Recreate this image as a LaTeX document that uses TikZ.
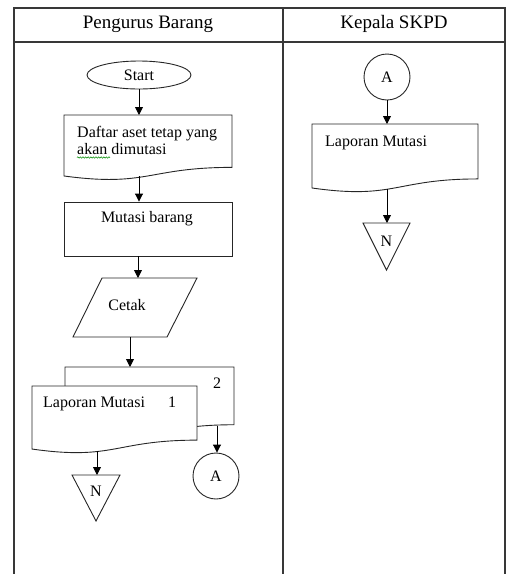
\documentclass[tikz,border=0pt]{standalone}
\usepackage{fontspec}
\setmainfont{Liberation Serif}
\usetikzlibrary{arrows.meta,shapes.geometric,decorations.pathmorphing}

% document symbol: left x, right x, top y, height
\newcommand\docshape[4]{%
  \draw[shapeline] (#1,#3) -- (#2,#3) -- (#2,{#3+0.802*#4})
    .. controls ({(#1+#2)/2},{#3+0.802*#4}) and ({(#1+#2)/2},{#3+1.107*#4}) ..
    (#1,{#3+0.934*#4}) -- cycle;}

\begin{document}
\begin{tikzpicture}[x=1pt,y=-1pt,
  lane/.style={draw=black!78, line width=1.3pt},
  shapeline/.style={draw=black!85, line width=0.9pt, fill=white},
  flow/.style={draw=black, line width=0.9pt, -{Triangle[length=8pt,width=8pt]}},
  lbl/.style={font=\fontsize{16}{17}\selectfont, inner sep=0pt},
  head/.style={font=\fontsize{19}{22}\selectfont, inner sep=0pt},
  conn/.style={circle, shapeline, minimum size=46pt, inner sep=0pt, font=\fontsize{16}{17}\selectfont},
  term/.style={ellipse, shapeline, minimum width=104pt, minimum height=28pt, inner sep=0pt, font=\fontsize{16}{17}\selectfont}
]
\useasboundingbox (0,0) rectangle (509,574);

% swimlane table
\draw[lane] (14,574) -- (14,8) -- (505,8) -- (505,574);
\draw[lane] (283,8) -- (283,574);
\draw[lane] (14,42) -- (505,42);
\node[head, anchor=base] (hPB) at (148,28) {Pengurus Barang};
\node[head, anchor=base] (hKS) at (394,28) {Kepala SKPD};

% --- Pengurus Barang ---
\node[term] (start) at (139,75) {Start};

\docshape{64}{232}{115}{65.3}
\coordinate (d1top) at (139,115);
\coordinate (d1bot) at (139,176);
\node[lbl, anchor=base west] (d1a) at (77,137) {Daftar aset tetap yang};
\node[lbl, anchor=base west] (d1b) at (77,154) {akan dimutasi};
\draw[green!55!black, line width=0.5pt, decorate,
      decoration={snake, amplitude=0.7pt, segment length=2.6pt}] (77,157.5) -- (110,157.5);

\node[rectangle, shapeline, minimum width=168pt, minimum height=54pt, inner sep=0pt] (mutbox) at (148,229) {};
\node[lbl, anchor=base] (mut) at (147,222) {Mutasi barang};
\coordinate (mbs) at (138,256);

\draw[shapeline] (102,278) -- (197,278) -- (167,337) -- (73,337) -- cycle;
\node[lbl, anchor=base] (cetak) at (127,310) {Cetak};
\coordinate (cin) at (138,278);
\coordinate (cout) at (130,337);

% two-copy report
\docshape{65}{234}{367}{72}
\node[lbl, anchor=base] (copy2) at (217,388) {2};
\coordinate (d2top) at (130,367);
\coordinate (b2bot) at (217,426);
\docshape{32}{197}{386}{67.5}
\node[lbl, anchor=base west] (lap1) at (43,407) {Laporan Mutasi};
\node[lbl, anchor=base] (copy1) at (172,407) {1};
\coordinate (d2bot) at (97,451);

\draw[shapeline] (72,475) -- (120,475) -- (96,521) -- cycle;
\node[lbl] (n1) at (96,491) {N};
\coordinate (n1top) at (97,475);

\node[conn] (cA) at (216,476) {A};

% --- Kepala SKPD ---
\node[conn] (rA) at (387,77) {A};
\docshape{312}{478}{124}{68.5}
\node[lbl, anchor=base west] (lap2) at (325,146) {Laporan Mutasi};
\coordinate (rdtop) at (387,124);
\coordinate (rdbot) at (387,189);
\draw[shapeline] (363,223) -- (410,223) -- (386.5,270) -- cycle;
\node[lbl] (n2) at (386.5,241) {N};
\coordinate (n2top) at (387,223);

% connectors
\draw[flow] (start.south) -- (d1top);
\draw[flow] (d1bot) -- (d1bot |- mutbox.north);
\draw[flow] (mbs) -- (cin);
\draw[flow] (cout) -- (d2top);
\draw[flow] (d2bot) -- (n1top);
\draw[flow] (b2bot) -- (b2bot |- cA.north);
\draw[flow] (rA.south) -- (rdtop);
\draw[flow] (rdbot) -- (n2top);
\end{tikzpicture}
\end{document}
